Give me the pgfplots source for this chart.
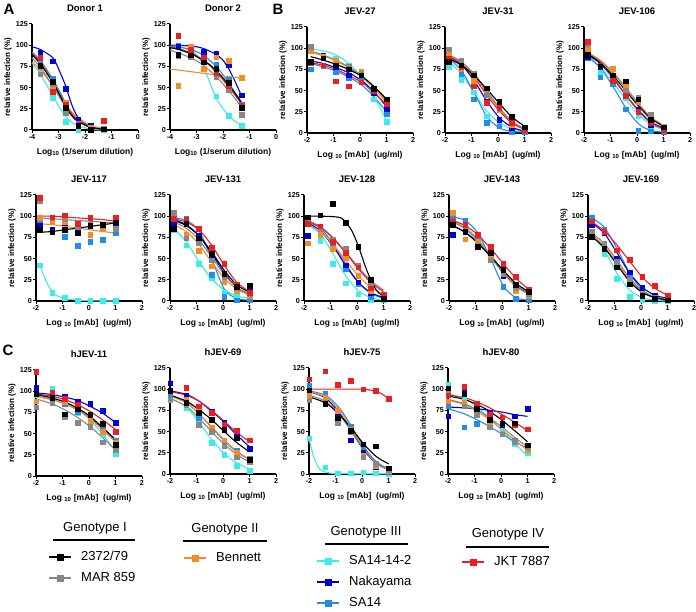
\documentclass[border=0pt]{standalone}
\usepackage{fontspec}
\setmainfont{Liberation Sans}
\usepackage{pgfplots}
\usepackage{pgfplotstable}
\pgfplotsset{compat=1.18}
\definecolor{cbk}{RGB}{0,0,0}
\definecolor{cgy}{RGB}{135,135,135}
\definecolor{cor}{RGB}{245,140,35}
\definecolor{ccy}{RGB}{60,235,235}
\definecolor{cbl}{RGB}{0,0,215}
\definecolor{csa}{RGB}{35,140,230}
\definecolor{crd}{RGB}{235,30,35}
\pgfplotsset{
  curve/.style={line width=1.1pt, smooth, no marks},
  pts/.style={only marks, mark=square*, mark size=2.3pt},
  base/.style={
    scale only axis, width=106pt, height=106pt, anchor=south west,
    axis x line*=bottom, axis y line*=left,
    axis line style={line width=1.3pt, -},
    every tick/.style={line width=1pt, black},
    tick align=outside, major tick length=3pt,
    ymin=0, ymax=125, ytick={0,25,50,75,100,125},
    yticklabels={0,25,50,75,100,125},
    ticklabel style={font=\bfseries\fontsize{7.2}{8}\selectfont, inner sep=1pt},
    ylabel={relative infection (\%)},
    ylabel style={font=\bfseries\fontsize{8}{9}\selectfont, at={(axis description cs:-0.225,0.5)}, anchor=center},
    xlabel style={font=\bfseries\fontsize{8.5}{10}\selectfont, at={(axis description cs:0.5,-0.21)}, anchor=center},
    title style={font=\bfseries\fontsize{9.5}{10}\selectfont, at={(axis description cs:0.5,1.092)}, anchor=center},
    clip=false,
  },
  mab/.style={base, xmin=-2, xmax=2, xtick={-2,-1,0,1,2}, xticklabels={-2,-1,0,1,2},
    xlabel={Log \textsubscript{10} [mAb]\ \ (ug/ml)}},
  donor/.style={base, xmin=-4, xmax=0, xtick={-4,-3,-2,-1,0}, xticklabels={-4,-3,-2,-1,0},
    xlabel={Log\textsubscript{10} (1/serum dilution)}},
  leg/.style={hide axis, scale only axis, width=1pt, height=1pt, xmin=0, xmax=1, ymin=0, ymax=1,
    anchor=north west, legend cell align=left,
    legend style={at={(0,1)}, anchor=north west, draw=none, fill=none, inner sep=0pt,
      font=\fontsize{13}{14}\selectfont, row sep=7pt, column sep=8pt,
      nodes={inner sep=1pt, text height=9.5pt, text depth=2.5pt}},
    legend image code/.code={\draw[##1, mark repeat=2, mark phase=2] plot coordinates {(0pt,0pt) (11pt,0pt) (22pt,0pt)};}},
  legimg/.style={line width=2pt, mark=square*, mark size=2.5pt},
}
\newcommand{\curves}[2]{\pgfplotsinvokeforeach{#1}{\addplot[curve,c##1] table[x=x,y=##1]{#2};}}
\newcommand{\points}[2]{\pgfplotsinvokeforeach{#1}{\addplot[pts,c##1] table[x=x,y=##1]{#2};}}
\newcommand{\allcurves}[1]{\curves{cy,sa,bl,or,gy,rd,bk}{#1}}
\newcommand{\allpoints}[1]{\points{cy,sa,bl,or,gy,rd,bk}{#1}}

% ---------------- Donor 1
\pgfplotstableread{
x bk gy or cy bl sa rd
-3.69 76 66 73 69 91 80 85
-3.21 57 54 52 38 81 61 45
-2.73 26 20 33 10 49 30 30
-2.26 5 8 8 0 12 8 7
-1.78 0 1 3 0 5 2 1
-1.30 1 2 2 0 2 1 11
}\tDa
\pgfplotstableread{
x bk gy or cy bl sa rd
-4.00 89 85 80 79 98 92 90
-3.69 78 74 71 66 95 82 80
-3.21 56 52 52 40 85 60 57
-2.97 42 39 41 27 70 46 43
-2.73 28 27 30 16 52 32 30
-2.50 17 17 21 9 30 20 19
-2.26 10 10 14 5 15 12 11
-1.78 3 3 5 1 4 4 3
-1.30 1 1 2 0 1.5 1 1
}\cDa
% ---------------- Donor 2
\pgfplotstableread{
x bk gy or cy bl sa rd
-3.69 89 87 52 100 99 100 111
-3.21 88 86 99 91 97 97 95
-2.73 80 80 72 72 92 88 85
-2.26 72 63 86 40 90 77 67
-1.78 56 47 82 17 77 60 52
-1.30 26 18 62 5 41 30 29
}\tDb
\pgfplotstableread{
x bk gy or cy bl sa rd
-4.00 97 94 72 99 100 99 98
-3.69 95 91 70.7 98 100 98 96
-3.21 90 85 68.8 94 99 95 91
-2.97 86 81 67.8 88 98 92 87
-2.73 82 76 66.8 75 96 88 82
-2.50 77 70 65.9 56 93 82 76
-2.26 70 63 64.9 38 89 75 68
-2.02 62 55 63.9 26 83 66 60
-1.78 53 46 63.0 17 72 55 50
-1.54 43 37 62.0 10 57 44 41
-1.30 32 27 61 6 40 33 31
}\cDb
% ---------------- JEV-27
\pgfplotstableread{
x bk gy or cy bl sa rd
-1.86 84 102 97 99 83 75 83
-1.39 88 88 90 90 91 79 80
-0.91 80 80 85 88 78 72 61
-0.43 75 78 77 80 68 65 55
0.05 68 70 72 65 60 62 60
0.52 52 50 52 40 47 47 50
1.00 40 38 34 13 29 22 34
}\tJa
\pgfplotstableread{
x bk gy or cy bl sa rd
-1.86 90 97 95 99 85 82 83
-1.39 86 92 91 97 82 78 80
-0.91 81 86 85 92 77 73 75
-0.43 75 78 77 82 71 66 68
0.05 67 68 67 66 62 57 60
0.52 55 55 53 43 49 43 48
1.00 40 38 36 15 31 25 33
}\cJa
% ---------------- JEV-31
\pgfplotstableread{
x bk gy or cy bl sa rd
-1.86 84 99 94 78 90 86 88
-1.39 80 85 76 63 80 70 78
-0.91 68 70 62 48 60 40 55
-0.43 53 45 50 20 37 12 36
0.05 37 28 27 14 16 8 30
0.52 19 12 10 3 6 1 12
1.00 7 4 5 2 7 1 4
}\tJb
\pgfplotstableread{
x bk gy or cy bl sa rd
-1.86 88 92 92 85 90 88 90
-1.39 80 84 84 70 81 74 82
-0.91 68 70 68 48 62 48 66
-0.43 52 50 48 26 38 20 45
0.05 35 30 28 12 18 6 26
0.52 19 14 13 5 7 2 12
1.00 8 5 5 2 2 1 4
}\cJb
% ---------------- JEV-106
\pgfplotstableread{
x bk gy or cy bl sa rd
-1.86 92 105 98 90 90 89 108
-1.39 79 80 79 72 78 66 80
-0.91 68 65 76 60 62 58 62
-0.43 61 50 55 41 46 28 44
0.05 40 42 37 20 28 3 25
0.52 16 22 17 6 10 2 12
1.00 7 6 8 2 5 1 4
}\tJc
\pgfplotstableread{
x bk gy or cy bl sa rd
-1.86 93 94 95 90 92 90 93
-1.39 83 85 86 78 82 77 83
-0.91 68 71 72 60 65 55 66
-0.43 50 53 54 40 45 30 45
0.05 32 34 35 22 27 11 26
0.52 17 18 19 10 13 3 12
1.00 8 8 9 4 6 1 5
}\cJc
% ---------------- JEV-117
\pgfplotstableread{
x bk gy or cy bl sa rd
-1.86 84 118 98 42 89 93 122
-1.39 81 98 93 10 84 83 99
-0.91 84 97 93 4 92 76 101
-0.43 80 87 87 0 85 65 91
0.05 89 90 78 0 88 70 98
0.52 90 88 85 0 88 72 90
1.00 93 85 86 0 87 80 99
}\tJd
\pgfplotstableread{
x bk gy or rd
-1.86 81 98 91 100
-1.39 82 97 90 100
-0.91 84 96 88 99
-0.43 86 95 86 98
0.05 88 94 84 97
0.52 90 93 82 96
1.00 92 92 80 94
}\cJd
% ---------------- JEV-131
\pgfplotstableread{
x bk gy or cy bl sa rd
-1.86 85 104 102 84 92 93 97
-1.39 91 74 78 66 95 97 96
-0.91 74 68 59 44 77 75 85
-0.43 56 48 41 27 52 31 63
0.05 32 28 22 10 26 5 44
0.52 17 16 12 5 12 1 20
1.00 18 8 6 4 12 1 10
}\tJe
\pgfplotstableread{
x bk gy or cy bl sa rd
-1.86 95 93 90 86 96 98 97
-1.39 89 86 82 70 90 95 93
-0.91 77 72 67 47 77 83 84
-0.43 58 52 46 26 56 50 66
0.05 36 31 27 13 33 14 42
0.52 19 16 14 6 16 3 22
1.00 10 8 7 3 7 1 11
}\cJe
% ---------------- JEV-128
\pgfplotstableread{
x bk gy or cy bl sa rd
-1.86 99 98 68 95 77 94 91
-1.39 101 85 78 71 84 85 88
-0.91 115 72 62 44 62 66 70
-0.43 92 62 51 21 42 38 57
0.05 64 42 30 8 22 20 40
0.52 25 18 12 1 10 5 15
1.00 3 8 5 1 8 2 8
}\tJf
\pgfplotstableread{
x gy or cy bl sa rd
-1.86 95 90 90 92 94 93
-1.39 88 82 79 83 86 87
-0.91 75 67 56 65 68 74
-0.43 58 48 30 42 44 57
0.05 40 30 12 22 22 38
0.52 24 16 4 10 9 22
1.00 13 8 1 4 3 11
}\cJf
% ---------------- JEV-143
\pgfplotstableread{
x bk gy or cy bl sa rd
-1.86 90 92 104 99 78 99 94
-1.39 82 84 73 86 82 95 90
-0.91 64 66 70 72 68 76 78
-0.43 57 48 52 50 50 49 64
0.05 37 32 34 34 30 17 44
0.52 19 16 12 18 17 3 29
1.00 11 8 6 8 9 1 14
}\tJg
\pgfplotstableread{
x bk gy or cy bl sa rd
-1.86 89 93 94 95 89 99 95
-1.39 81 85 86 87 81 95 89
-0.91 68 71 72 73 69 80 78
-0.43 53 52 53 54 52 50 62
0.05 36 34 33 35 33 18 44
0.52 21 19 17 19 18 4 27
1.00 11 10 8 9 9 1 14
}\cJg
% ---------------- JEV-169
\pgfplotstableread{
x bk gy or cy bl sa rd
-1.86 76 82 80 78 90 99 94
-1.39 62 68 65 56 80 84 82
-0.91 40 46 42 26 50 50 60
-0.43 20 25 22 5 34 29 49
0.05 6 8 9 1 16 12 29
0.52 3 4 4 0 7 3 18
1.00 1 1 2 0 3 1 7
}\tJh
\pgfplotstableread{
x bk gy or cy bl sa rd
-1.86 76 80 78 78 92 98 93
-1.39 63 68 65 60 80 87 83
-0.91 43 48 45 33 57 62 66
-0.43 23 27 25 13 33 33 47
0.05 10 12 11 4 16 13 28
0.52 4 5 4 1 7 4 15
1.00 1 2 2 0 3 1 7
}\cJh
% ---------------- hJEV-11
\pgfplotstableread{
x bk gy or cy bl sa rd
-2.00 97 81 88 96 104 98 123
-1.39 92 86 90 103 92 93 98
-0.91 73 70 87 86 94 85 91
-0.43 79 63 84 74 88 76 84
0.05 72 58 65 62 85 68 73
0.52 62 40 52 48 77 56 62
1.00 37 31 40 26 63 42 52
}\tHa
\pgfplotstableread{
x bk gy or cy bl sa rd
-2.00 96 91 94 96 98 94 97
-1.39 92 85 90 92 96 90 94
-0.91 87 78 85 87 93 85 90
-0.43 80 69 78 79 89 78 84
0.05 70 58 67 66 82 68 76
0.52 57 45 54 49 74 56 66
1.00 43 31 40 29 63 42 55
}\cHa
% ---------------- hJEV-69
\pgfplotstableread{
x bk gy or cy bl sa rd
-2.00 98 88 87 90 107 95 99
-1.39 84 82 88 78 93 86 102
-0.91 72 58 74 60 78 66 80
-0.43 64 50 55 37 74 53 72
0.05 52 33 40 23 61 38 58
0.52 42 20 25 10 48 28 51
1.00 17 14 16 4 30 18 40
}\tHb
\pgfplotstableread{
x bk gy or cy bl sa rd
-2.00 93 89 92 90 98 93 97
-1.39 86 80 84 79 94 85 93
-0.91 76 66 71 61 86 71 86
-0.43 64 50 56 41 74 55 75
0.05 50 35 40 24 61 39 62
0.52 37 23 27 13 46 26 49
1.00 26 14 17 6 32 17 38
}\cHb
% ---------------- hJEV-75
\pgfplotstableread{
x bk gy or cy bl sa rd
-2.00 99 87 92 42 97 104 112
-1.39 83 84 90 8 88 95 121
-0.91 66 60 75 1 68 72 105
-0.43 51 50 52 1 40 56 110
0.05 35 20 22 2 25 30 100
0.52 33 12 10 1 8 12 98
1.00 7 5 4 0 4 3 89
}\tHc
\pgfplotstableread{
x bk gy or bl sa
-2.00 91 93 97 97 98
-1.39 84 86 91 90 93
-0.91 72 72 77 74 80
-0.43 55 52 55 52 58
0.05 36 30 31 29 33
0.52 21 14 14 13 15
1.00 12 6 5 5 6
}\cHc
% ---------------- hJEV-80
\pgfplotstableread{
x bk gy or cy bl sa rd
-2.00 101 96 86 105 68 80 93
-1.39 94 80 84 90 97 55 103
-0.91 77 70 73 74 78 59 83
-0.43 64 55 58 67 72 56 70
0.05 60 47 48 50 58 48 67
0.52 60 38 38 35 68 40 58
1.00 34 32 28 25 77 33 53
}\tHd
\pgfplotstableread{
x bk gy or cy bl sa rd
-2.00 92 88 87 95 79 77 93
-1.39 88 83 82 89 78 71 90
-0.91 82 76 74 79 77 64 85
-0.43 74 66 64 66 75 56 78
0.05 63 55 52 51 73 47 70
0.52 51 43 40 36 70 38 61
1.00 38 32 28 21 68 30 51
}\cHd

\begin{document}
\begin{tikzpicture}
\useasboundingbox (0,0) rectangle (696pt,-612pt);
\node[font=\bfseries\fontsize{15}{15}\selectfont] at (9pt,-9pt) {A};
\node[font=\bfseries\fontsize{15}{15}\selectfont] at (278pt,-9pt) {B};
\node[font=\bfseries\fontsize{15}{15}\selectfont] at (8pt,-350pt) {C};

% Row 1
\begin{axis}[donor, at={(32pt,-130pt)}, title={Donor 1}]
\allcurves{\cDa}\allpoints{\tDa}
\end{axis}
\begin{axis}[donor, at={(170pt,-130pt)}, title={Donor 2}]
\allcurves{\cDb}\allpoints{\tDb}
\end{axis}
\begin{axis}[mab, at={(307pt,-133pt)}, title={JEV-27}]
\allcurves{\cJa}\allpoints{\tJa}
\end{axis}
\begin{axis}[mab, at={(445pt,-133pt)}, title={JEV-31}]
\allcurves{\cJb}\allpoints{\tJb}
\end{axis}
\begin{axis}[mab, at={(584pt,-133pt)}, title={JEV-106}]
\allcurves{\cJc}\allpoints{\tJc}
\end{axis}

% Row 2
\begin{axis}[mab, at={(36pt,-301pt)}, title={JEV-117}]
\curves{or,gy,rd,bk}{\cJd}
\addplot[curve, ccy] coordinates {(-1.86,42) (-1.7,30) (-1.55,19) (-1.39,11) (-1.2,6) (-0.91,3) (-0.6,1.5) (-0.43,1) (0.05,0.3) (0.52,0) (1.0,0)};
\allpoints{\tJd}
\end{axis}
\begin{axis}[mab, at={(170pt,-301pt)}, title={JEV-131}]
\allcurves{\cJe}\allpoints{\tJe}
\end{axis}
\begin{axis}[mab, at={(304pt,-301pt)}, title={JEV-128}]
\curves{cy,sa,bl,or,gy,rd}{\cJf}
\addplot[curve, cbk] coordinates {(-1.86,100) (-1.39,100) (-0.91,99.5) (-0.6,98) (-0.43,93) (-0.2,83) (0.05,65) (0.3,42) (0.52,25) (0.75,12) (1.0,5)};
\allpoints{\tJf}
\end{axis}
\begin{axis}[mab, at={(449pt,-301pt)}, title={JEV-143}]
\allcurves{\cJg}\allpoints{\tJg}
\end{axis}
\begin{axis}[mab, at={(588pt,-301pt)}, title={JEV-169}]
\allcurves{\cJh}\allpoints{\tJh}
\end{axis}

% Row 3
\begin{axis}[mab, at={(36pt,-476pt)}, title={hJEV-11}]
\allcurves{\cHa}\allpoints{\tHa}
\end{axis}
\begin{axis}[mab, at={(170pt,-474pt)}, title={hJEV-69}]
\allcurves{\cHb}\allpoints{\tHb}
\end{axis}
\begin{axis}[mab, at={(309pt,-474pt)}, title={hJEV-75}]
\curves{sa,bl,or,gy,bk}{\cHc}
\addplot[curve, ccy] coordinates {(-2,42) (-1.9,29) (-1.8,18) (-1.7,11) (-1.6,6) (-1.45,3) (-1.2,1) (-0.91,0.5) (0,0.3) (1,0.3)};
\addplot[curve, crd] coordinates {(-2,100) (-1,100) (0,100) (0.3,99) (0.52,97.5) (0.75,94.5) (1,89)};
\allpoints{\tHc}
\end{axis}
\begin{axis}[mab, at={(448pt,-474pt)}, title={hJEV-80}]
\allcurves{\cHd}\allpoints{\tHd}
\end{axis}

% Legend
\begin{scope}[font=\fontsize{13}{14}\selectfont]
\node at (95pt,-528pt) {Genotype I};
\draw[line width=1.4pt] (53pt,-540pt) -- (135pt,-540pt);
\node at (225pt,-529pt) {Genotype II};
\draw[line width=1.4pt] (183pt,-541pt) -- (267pt,-541pt);
\node at (366pt,-532pt) {Genotype III};
\draw[line width=1.4pt] (325pt,-544pt) -- (408pt,-544pt);
\node at (508pt,-534pt) {Genotype IV};
\draw[line width=1.4pt] (466pt,-547pt) -- (549pt,-547pt);
\end{scope}
\begin{axis}[leg, at={(48pt,-550pt)}]
\addlegendimage{cbk, legimg}\addlegendentry{2372/79}
\addlegendimage{cgy, legimg}\addlegendentry{MAR 859}
\end{axis}
\begin{axis}[leg, at={(183pt,-551pt)}]
\addlegendimage{cor, legimg}\addlegendentry{Bennett}
\end{axis}
\begin{axis}[leg, at={(316pt,-554pt)}]
\addlegendimage{ccy, legimg}\addlegendentry{SA14-14-2}
\addlegendimage{cbl, legimg}\addlegendentry{Nakayama}
\addlegendimage{csa, legimg}\addlegendentry{SA14}
\end{axis}
\begin{axis}[leg, at={(461pt,-555pt)}]
\addlegendimage{crd, legimg}\addlegendentry{JKT 7887}
\end{axis}
\end{tikzpicture}
\end{document}
